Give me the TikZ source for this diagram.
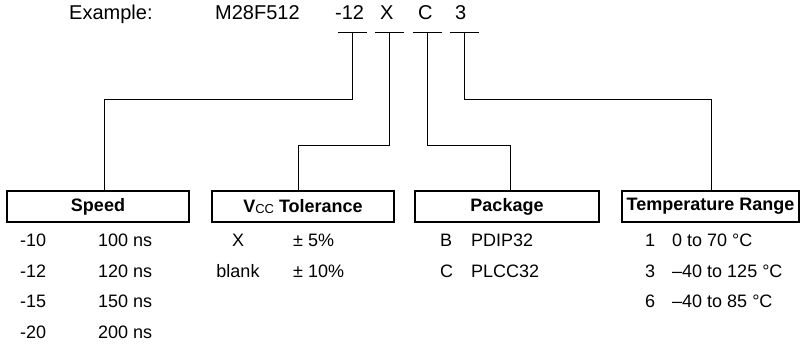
\documentclass[tikz,border=0pt]{standalone}
\usepackage{fontspec}
\setmainfont{Liberation Sans}
\usetikzlibrary{positioning}
\usetikzlibrary{calc}

\begin{document}
\begin{tikzpicture} [x=1pt, y=-1pt, font=\fontsize{18}{20}\selectfont]
    % keep the page at the size of the reference
    \useasboundingbox (0,0) rectangle (805,344);
    \tikzstyle{head} = [draw=black, line width=1.1pt, minimum width=182pt, minimum height=31pt, inner sep=0pt, font=\fontsize{18}{20}\selectfont\bfseries]
    \tikzstyle{wire} = [draw=black, line width=0.8pt]
    \tikzstyle{entry} = [inner sep=0pt, anchor=base west]
    \tikzstyle{code} = [entry, font=\fontsize{20}{22}\selectfont]

    % the order code written out
    \node (ex) [code] at (69,20) {Example:};
    \node (dev) [code] at (215,20) {M28F512};
    \node (cspd) [code] at (335,20) {-12};
    \node (cvcc) [code] at (380,20) {X};
    \node (cpkg) [code] at (418,20) {C};
    \node (ctmp) [code] at (455,20) {3};

    % ticks under each field, and the two elbow levels
    \coordinate (t1) at (352,32);
    \coordinate (t2) at (389,32);
    \coordinate (t3) at (427,32);
    \coordinate (t4) at (464,32);
    \coordinate (hi) at (0,99);
    \coordinate (lo) at (0,145);
    \foreach \t in {t1, t2, t3, t4} {
        \draw [wire] ($(\t)+(-14,0)$) -- ($(\t)+(15,0)$);
    }

    % header boxes
    \node (speed) [head] at (98,206.5) {Speed};
    \node (vcc) [head] at (303,206.5) {V\raisebox{-1.5pt}{\fontsize{13}{13}\selectfont\mdseries CC} Tolerance};
    \node (pkg) [head, minimum width=184pt] at (507,206.5) {Package};
    \node (temp) [head, minimum width=177pt] at (710.5,206.5) {Temperature Range};

    % drop points on top of the boxes
    \coordinate (s1) at ([xshift=6pt]speed.north);
    \coordinate (s2) at ([xshift=-5pt]vcc.north);
    \coordinate (s3) at ([xshift=3pt]pkg.north);
    \coordinate (s4) at ([xshift=1pt]temp.north);

    % connectors from the code to the boxes
    \draw [wire] (t1) -- (t1 |- hi) -| (s1);
    \draw [wire] (t2) -- (t2 |- lo) -| (s2);
    \draw [wire] (t3) -- (t3 |- lo) -| (s3);
    \draw [wire] (t4) -- (t4 |- hi) -| (s4);

    % speed table
    \foreach \c/\v [count=\i] in {-10/100 ns, -12/120 ns, -15/150 ns, -20/200 ns} {
        \node (sc\i) [entry] at (20, {216.5 + 30.5*\i}) {\c};
        \node (sv\i) [entry] at (98, {216.5 + 30.5*\i}) {\v};
    }

    % supply tolerance table
    \foreach \c/\v [count=\i] in {X/± 5\%, blank/± 10\%} {
        \node (vc\i) [inner sep=0pt, anchor=base] at (238, {216.5 + 30.5*\i}) {\c};
        \node (vv\i) [entry] at (293, {216.5 + 30.5*\i}) {\v};
    }

    % package table
    \foreach \c/\v [count=\i] in {B/PDIP32, C/PLCC32} {
        \node (pc\i) [entry] at (440, {216.5 + 30.5*\i}) {\c};
        \node (pv\i) [entry] at (471, {216.5 + 30.5*\i}) {\v};
    }

    % temperature table
    \foreach \c/\v [count=\i] in {1/0 to 70 °C, 3/–40 to 125 °C, 6/–40 to 85 °C} {
        \node (tc\i) [entry] at (645, {216.5 + 30.5*\i}) {\c};
        \node (tv\i) [entry] at (672, {216.5 + 30.5*\i}) {\v};
    }
\end{tikzpicture}
\end{document}
